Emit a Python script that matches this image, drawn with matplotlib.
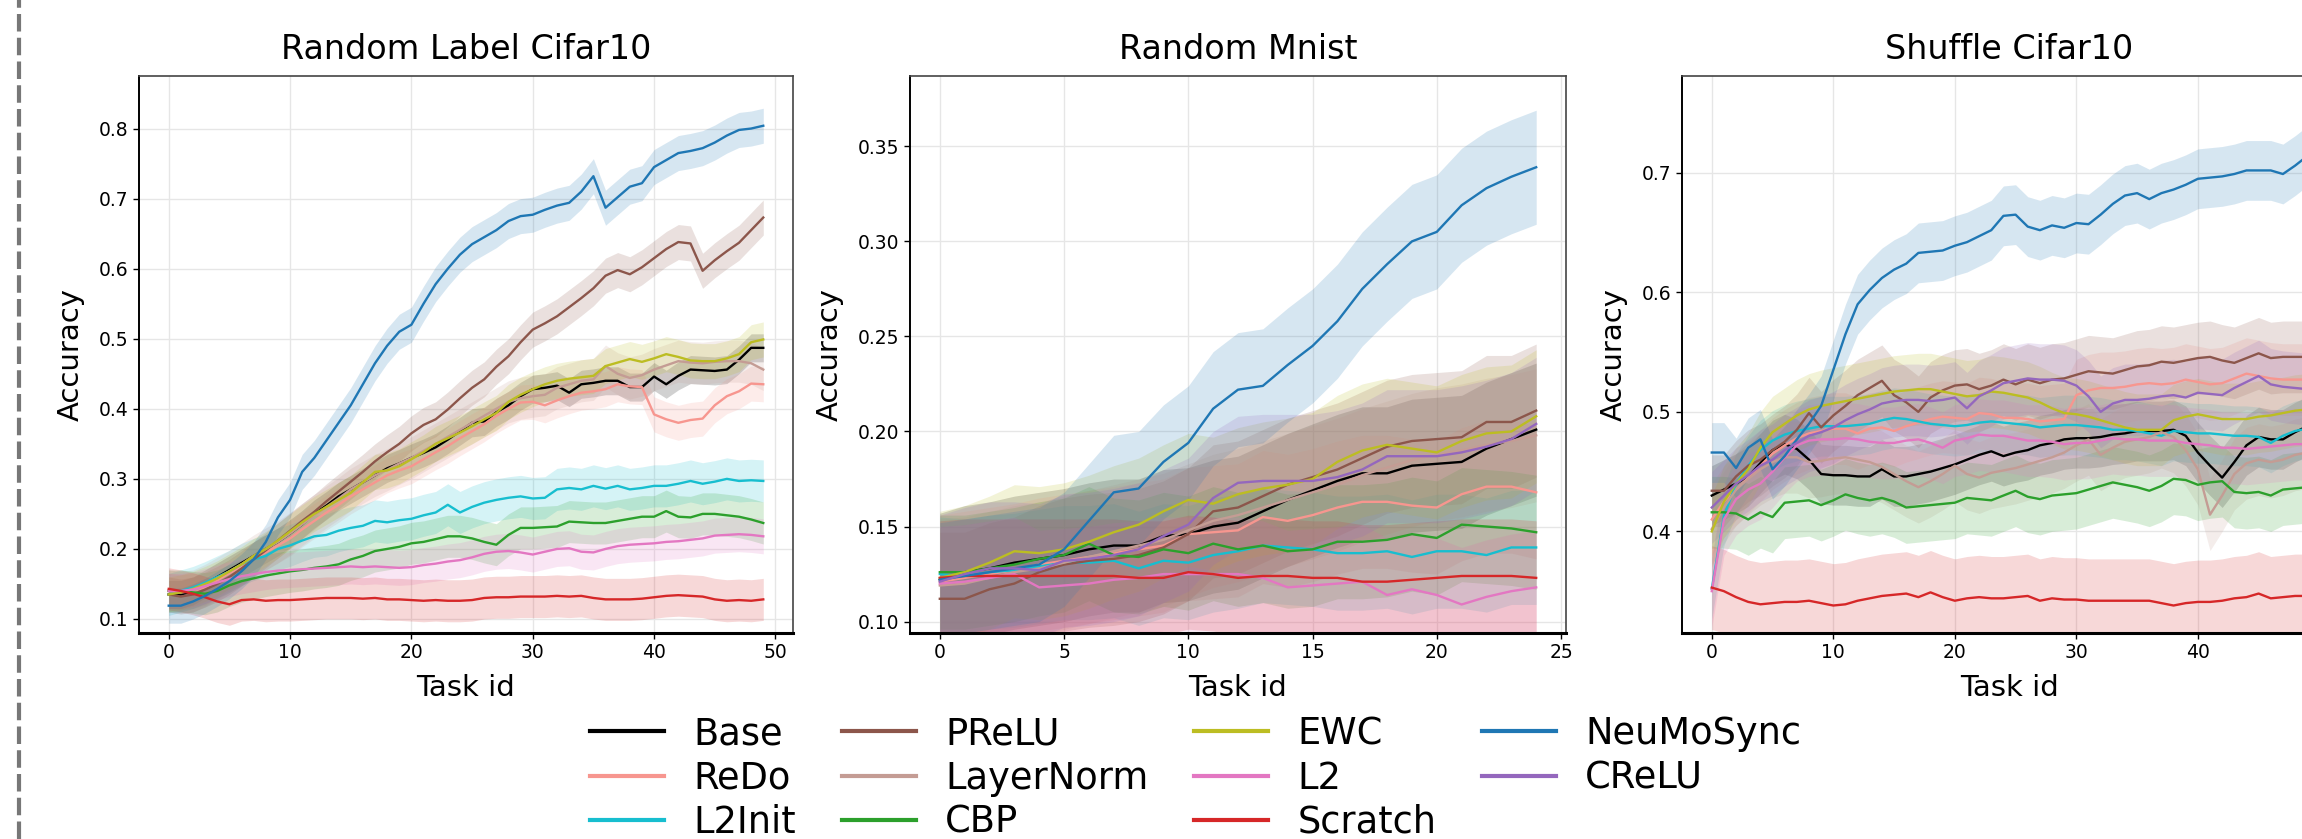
import numpy as np
import matplotlib

matplotlib.use("Agg")
import matplotlib.pyplot as plt
from matplotlib.lines import Line2D

plt.rcParams["font.family"] = ["DejaVu Sans"]

METHODS = ["Base", "ReDo", "L2Init", "PReLU", "LayerNorm", "CBP", "EWC", "L2", "Scratch", "NeuMoSync", "CReLU"]
COLORS = ["#000000", "#f7968f", "#17becf", "#8c564b", "#c49c94", "#2ca02c", "#bcbd22", "#e377c2", "#d62728", "#1f77b4", "#9467bd"]

# ---- Random Label Cifar10 (50 tasks) ----
rl_base = [0.135, 0.135, 0.14, 0.15, 0.16, 0.17, 0.18, 0.19, 0.20, 0.21, 0.222, 0.235, 0.25, 0.262, 0.275, 0.285, 0.295, 0.305, 0.315, 0.322,
           0.33, 0.337, 0.345, 0.356, 0.368, 0.38, 0.382, 0.395, 0.405, 0.418, 0.428, 0.43, 0.433, 0.423, 0.435, 0.437, 0.44, 0.44, 0.431, 0.431,
           0.446, 0.435, 0.447, 0.456, 0.455, 0.454, 0.456, 0.47, 0.487, 0.487]
rl_redo = [0.14, 0.138, 0.14, 0.145, 0.155, 0.165, 0.175, 0.185, 0.195, 0.205, 0.215, 0.228, 0.24, 0.252, 0.263, 0.275, 0.285, 0.295, 0.305, 0.312,
           0.318, 0.328, 0.338, 0.347, 0.358, 0.368, 0.378, 0.39, 0.40, 0.409, 0.41, 0.405, 0.412, 0.418, 0.423, 0.425, 0.428, 0.435, 0.432, 0.431,
           0.392, 0.385, 0.38, 0.384, 0.386, 0.405, 0.418, 0.425, 0.436, 0.435]
rl_l2init = [0.135, 0.14, 0.145, 0.152, 0.16, 0.168, 0.178, 0.185, 0.19, 0.20, 0.205, 0.212, 0.218, 0.22, 0.226, 0.23, 0.233, 0.24, 0.238, 0.241,
             0.243, 0.248, 0.252, 0.263, 0.252, 0.26, 0.266, 0.27, 0.273, 0.275, 0.272, 0.273, 0.285, 0.287, 0.285, 0.29, 0.286, 0.29, 0.285, 0.287,
             0.29, 0.29, 0.293, 0.297, 0.293, 0.296, 0.30, 0.297, 0.298, 0.297]
rl_prelu = [0.135, 0.132, 0.135, 0.142, 0.15, 0.16, 0.172, 0.185, 0.198, 0.212, 0.226, 0.24, 0.253, 0.268, 0.282, 0.296, 0.31, 0.325, 0.338, 0.35,
            0.365, 0.377, 0.385, 0.399, 0.415, 0.43, 0.442, 0.46, 0.475, 0.495, 0.513, 0.522, 0.532, 0.545, 0.558, 0.572, 0.59, 0.598, 0.592, 0.602,
            0.615, 0.628, 0.638, 0.636, 0.597, 0.612, 0.625, 0.637, 0.655, 0.673]
rl_layernorm = [0.14, 0.138, 0.14, 0.148, 0.158, 0.168, 0.178, 0.19, 0.20, 0.21, 0.222, 0.235, 0.248, 0.26, 0.272, 0.285, 0.295, 0.305, 0.313, 0.322,
                0.33, 0.34, 0.35, 0.36, 0.37, 0.38, 0.39, 0.40, 0.41, 0.415, 0.418, 0.42, 0.43, 0.435, 0.44, 0.442, 0.461, 0.45, 0.444, 0.448,
                0.456, 0.462, 0.468, 0.466, 0.465, 0.467, 0.468, 0.468, 0.465, 0.456]
rl_cbp = [0.14, 0.14, 0.138, 0.136, 0.14, 0.148, 0.154, 0.158, 0.162, 0.165, 0.168, 0.17, 0.173, 0.175, 0.178, 0.185, 0.19, 0.197, 0.20, 0.203,
          0.208, 0.21, 0.214, 0.218, 0.218, 0.215, 0.21, 0.206, 0.22, 0.23, 0.23, 0.231, 0.232, 0.239, 0.238, 0.237, 0.237, 0.24, 0.243, 0.246,
          0.246, 0.254, 0.246, 0.245, 0.25, 0.25, 0.248, 0.246, 0.242, 0.237]
rl_ewc = [0.135, 0.138, 0.143, 0.15, 0.158, 0.168, 0.178, 0.19, 0.20, 0.212, 0.225, 0.238, 0.25, 0.26, 0.27, 0.28, 0.295, 0.31, 0.312, 0.318,
          0.328, 0.338, 0.35, 0.358, 0.366, 0.375, 0.385, 0.394, 0.41, 0.42, 0.428, 0.435, 0.44, 0.443, 0.445, 0.447, 0.461, 0.466, 0.471, 0.467,
          0.472, 0.478, 0.474, 0.469, 0.468, 0.468, 0.472, 0.478, 0.495, 0.499]
rl_l2 = [0.14, 0.14, 0.142, 0.147, 0.152, 0.157, 0.161, 0.164, 0.167, 0.169, 0.17, 0.171, 0.172, 0.173, 0.174, 0.175, 0.174, 0.175, 0.174, 0.173,
         0.174, 0.177, 0.179, 0.182, 0.184, 0.188, 0.193, 0.196, 0.197, 0.195, 0.192, 0.196, 0.20, 0.201, 0.196, 0.195, 0.20, 0.204, 0.206, 0.207,
         0.208, 0.21, 0.211, 0.213, 0.215, 0.219, 0.22, 0.221, 0.22, 0.218]
rl_scratch = [0.143, 0.14, 0.136, 0.131, 0.125, 0.121, 0.127, 0.128, 0.126, 0.127, 0.127, 0.128, 0.129, 0.13, 0.13, 0.13, 0.129, 0.13, 0.128, 0.128,
              0.127, 0.126, 0.127, 0.126, 0.126, 0.127, 0.13, 0.131, 0.131, 0.132, 0.132, 0.132, 0.133, 0.132, 0.133, 0.13, 0.128, 0.128, 0.128, 0.129,
              0.131, 0.133, 0.134, 0.133, 0.132, 0.128, 0.126, 0.127, 0.126, 0.128]
rl_neumosync = [0.119, 0.119, 0.125, 0.133, 0.143, 0.154, 0.168, 0.185, 0.21, 0.245, 0.27, 0.31, 0.33, 0.355, 0.38, 0.405, 0.435, 0.465, 0.49, 0.51,
                0.52, 0.55, 0.578, 0.60, 0.62, 0.635, 0.645, 0.655, 0.668, 0.675, 0.677, 0.684, 0.69, 0.694, 0.71, 0.732, 0.687, 0.702, 0.717, 0.722,
                0.745, 0.755, 0.765, 0.768, 0.772, 0.78, 0.79, 0.798, 0.80, 0.804]
rl_spread = [0.02, 0.025, 0.03, 0.025, 0.03, 0.03, 0.025, 0.025, 0.03, 0.025, 0.0]

# ---- Random Mnist (25 tasks) ----
rm_base = [0.122, 0.126, 0.128, 0.131, 0.133, 0.135, 0.138, 0.14, 0.14, 0.145, 0.146, 0.15, 0.152, 0.158, 0.164, 0.169, 0.174, 0.178, 0.178, 0.182,
           0.183, 0.184, 0.191, 0.196, 0.201]
rm_redo = [0.121, 0.123, 0.125, 0.127, 0.13, 0.132, 0.134, 0.136, 0.138, 0.14, 0.146, 0.147, 0.148, 0.155, 0.153, 0.156, 0.16, 0.163, 0.163, 0.161,
           0.16, 0.167, 0.171, 0.171, 0.168]
rm_l2init = [0.125, 0.124, 0.126, 0.127, 0.129, 0.131, 0.131, 0.132, 0.128, 0.132, 0.131, 0.135, 0.137, 0.14, 0.139, 0.138, 0.136, 0.136, 0.137, 0.134,
             0.137, 0.137, 0.135, 0.139, 0.139]
rm_prelu = [0.112, 0.112, 0.117, 0.12, 0.126, 0.13, 0.132, 0.133, 0.135, 0.139, 0.146, 0.158, 0.16, 0.166, 0.172, 0.176, 0.18, 0.186, 0.192, 0.195,
            0.196, 0.197, 0.205, 0.205, 0.211]
rm_layernorm = [0.119, 0.12, 0.123, 0.126, 0.128, 0.131, 0.134, 0.137, 0.14, 0.143, 0.148, 0.153, 0.156, 0.16, 0.164, 0.168, 0.172, 0.177, 0.181, 0.185,
                0.188, 0.19, 0.193, 0.195, 0.198]
rm_cbp = [0.126, 0.126, 0.128, 0.13, 0.133, 0.135, 0.141, 0.135, 0.134, 0.138, 0.136, 0.141, 0.138, 0.14, 0.137, 0.138, 0.142, 0.142, 0.143, 0.146,
          0.144, 0.151, 0.15, 0.149, 0.147]
rm_ewc = [0.123, 0.126, 0.131, 0.137, 0.136, 0.138, 0.142, 0.147, 0.151, 0.158, 0.164, 0.162, 0.167, 0.17, 0.172, 0.175, 0.184, 0.19, 0.193, 0.191,
          0.189, 0.195, 0.199, 0.20, 0.208]
rm_l2 = [0.12, 0.121, 0.123, 0.125, 0.118, 0.119, 0.12, 0.122, 0.123, 0.125, 0.125, 0.125, 0.125, 0.123, 0.118, 0.119, 0.12, 0.121, 0.114, 0.117,
         0.114, 0.109, 0.113, 0.116, 0.118]
rm_scratch = [0.123, 0.124, 0.124, 0.124, 0.124, 0.124, 0.124, 0.124, 0.123, 0.123, 0.126, 0.125, 0.123, 0.124, 0.124, 0.123, 0.123, 0.121, 0.121, 0.122,
              0.123, 0.124, 0.124, 0.124, 0.123]
rm_neumosync = [0.122, 0.124, 0.126, 0.128, 0.13, 0.138, 0.153, 0.168, 0.17, 0.184, 0.194, 0.212, 0.222, 0.224, 0.235, 0.245, 0.258, 0.275, 0.288, 0.30,
                0.305, 0.319, 0.328, 0.334, 0.339]
rm_crelu = [0.121, 0.125, 0.128, 0.128, 0.127, 0.132, 0.133, 0.135, 0.138, 0.145, 0.151, 0.165, 0.173, 0.174, 0.174, 0.174, 0.176, 0.18, 0.187, 0.187,
            0.187, 0.189, 0.192, 0.196, 0.204]
rm_spread = [0.035, 0.035, 0.03, 0.035, 0.035, 0.03, 0.035, 0.03, 0.03, 0.03, 0.035]

# ---- Shuffle Cifar10 (50 tasks) ----
sc_base = [0.43, 0.435, 0.44, 0.446, 0.457, 0.468, 0.473, 0.469, 0.46, 0.448, 0.447, 0.447, 0.446, 0.446, 0.452, 0.446, 0.446, 0.448, 0.45, 0.453,
           0.456, 0.46, 0.464, 0.467, 0.463, 0.466, 0.468, 0.472, 0.474, 0.477, 0.478, 0.478, 0.479, 0.481, 0.482, 0.484, 0.484, 0.484, 0.485, 0.48,
           0.466, 0.455, 0.445, 0.458, 0.472, 0.479, 0.477, 0.477, 0.483, 0.488]
sc_redo = [0.41, 0.425, 0.435, 0.445, 0.455, 0.465, 0.472, 0.478, 0.482, 0.484, 0.486, 0.486, 0.482, 0.486, 0.487, 0.484, 0.488, 0.491, 0.494, 0.496,
           0.495, 0.494, 0.499, 0.498, 0.495, 0.495, 0.494, 0.492, 0.493, 0.494, 0.514, 0.518, 0.52, 0.52, 0.521, 0.523, 0.524, 0.523, 0.524, 0.527,
           0.525, 0.523, 0.524, 0.528, 0.532, 0.53, 0.528, 0.527, 0.527, 0.527]
sc_l2init = [0.352, 0.413, 0.44, 0.455, 0.468, 0.476, 0.481, 0.484, 0.486, 0.488, 0.488, 0.488, 0.489, 0.49, 0.493, 0.495, 0.494, 0.492, 0.49, 0.489,
             0.488, 0.489, 0.491, 0.492, 0.491, 0.49, 0.489, 0.487, 0.488, 0.489, 0.489, 0.488, 0.487, 0.485, 0.485, 0.484, 0.482, 0.48, 0.484, 0.483,
             0.482, 0.482, 0.481, 0.48, 0.48, 0.479, 0.474, 0.48, 0.484, 0.486]
sc_prelu = [0.434, 0.434, 0.446, 0.455, 0.46, 0.468, 0.475, 0.485, 0.499, 0.487, 0.497, 0.505, 0.514, 0.52, 0.526, 0.514, 0.508, 0.50, 0.512, 0.518,
            0.522, 0.523, 0.519, 0.522, 0.527, 0.523, 0.527, 0.524, 0.527, 0.528, 0.531, 0.534, 0.533, 0.532, 0.535, 0.538, 0.539, 0.542, 0.541, 0.543,
            0.545, 0.546, 0.543, 0.541, 0.545, 0.549, 0.545, 0.546, 0.546, 0.546]
sc_layernorm = [0.402, 0.42, 0.435, 0.444, 0.452, 0.458, 0.462, 0.462, 0.458, 0.459, 0.461, 0.462, 0.46, 0.458, 0.454, 0.448, 0.442, 0.437, 0.442, 0.448,
                0.455, 0.448, 0.445, 0.449, 0.451, 0.453, 0.456, 0.459, 0.462, 0.466, 0.472, 0.477, 0.464, 0.47, 0.475, 0.477, 0.479, 0.483, 0.479, 0.468,
                0.452, 0.414, 0.43, 0.448, 0.457, 0.46, 0.458, 0.46, 0.464, 0.466]
sc_cbp = [0.416, 0.416, 0.415, 0.41, 0.416, 0.412, 0.424, 0.425, 0.426, 0.422, 0.426, 0.431, 0.428, 0.426, 0.428, 0.425, 0.42, 0.421, 0.422, 0.423,
          0.424, 0.428, 0.427, 0.426, 0.43, 0.434, 0.429, 0.427, 0.43, 0.431, 0.432, 0.435, 0.438, 0.441, 0.439, 0.437, 0.434, 0.438, 0.444, 0.443,
          0.439, 0.441, 0.442, 0.433, 0.432, 0.433, 0.43, 0.435, 0.436, 0.437]
sc_ewc = [0.40, 0.425, 0.44, 0.452, 0.47, 0.483, 0.49, 0.497, 0.502, 0.505, 0.507, 0.509, 0.511, 0.513, 0.515, 0.517, 0.518, 0.519, 0.519, 0.517,
          0.515, 0.513, 0.514, 0.517, 0.516, 0.514, 0.512, 0.508, 0.503, 0.499, 0.498, 0.496, 0.493, 0.49, 0.487, 0.485, 0.485, 0.485, 0.493, 0.496,
          0.498, 0.496, 0.494, 0.494, 0.494, 0.496, 0.497, 0.499, 0.501, 0.502]
sc_l2 = [0.35, 0.41, 0.427, 0.435, 0.44, 0.45, 0.462, 0.472, 0.476, 0.477, 0.477, 0.478, 0.477, 0.475, 0.474, 0.474, 0.476, 0.477, 0.474, 0.47,
         0.476, 0.478, 0.481, 0.48, 0.48, 0.478, 0.476, 0.476, 0.475, 0.473, 0.474, 0.474, 0.476, 0.478, 0.477, 0.477, 0.476, 0.476, 0.476, 0.474,
         0.473, 0.472, 0.47, 0.47, 0.469, 0.47, 0.471, 0.472, 0.473, 0.473]
sc_scratch = [0.353, 0.35, 0.345, 0.341, 0.339, 0.34, 0.341, 0.341, 0.342, 0.34, 0.338, 0.339, 0.342, 0.344, 0.346, 0.347, 0.348, 0.345, 0.349, 0.345,
              0.342, 0.344, 0.345, 0.344, 0.344, 0.345, 0.346, 0.342, 0.344, 0.343, 0.343, 0.342, 0.342, 0.342, 0.342, 0.342, 0.342, 0.34, 0.338, 0.34,
              0.341, 0.341, 0.342, 0.344, 0.345, 0.348, 0.344, 0.345, 0.346, 0.346]
sc_neumosync = [0.466, 0.466, 0.453, 0.47, 0.477, 0.452, 0.463, 0.477, 0.49, 0.505, 0.535, 0.565, 0.59, 0.602, 0.612, 0.619, 0.624, 0.633, 0.634, 0.635,
                0.639, 0.642, 0.647, 0.652, 0.664, 0.665, 0.655, 0.652, 0.656, 0.654, 0.658, 0.657, 0.665, 0.674, 0.681, 0.683, 0.678, 0.683, 0.686, 0.69,
                0.695, 0.696, 0.697, 0.699, 0.702, 0.702, 0.702, 0.699, 0.706, 0.714]
sc_crelu = [0.42, 0.43, 0.44, 0.447, 0.455, 0.46, 0.468, 0.474, 0.48, 0.483, 0.487, 0.493, 0.498, 0.502, 0.507, 0.509, 0.51, 0.51, 0.509, 0.51,
            0.512, 0.503, 0.513, 0.518, 0.524, 0.526, 0.528, 0.527, 0.527, 0.526, 0.522, 0.513, 0.50, 0.507, 0.51, 0.51, 0.511, 0.513, 0.514, 0.512,
            0.516, 0.515, 0.514, 0.52, 0.525, 0.53, 0.523, 0.521, 0.52, 0.519]
sc_spread = [0.025, 0.03, 0.025, 0.03, 0.03, 0.03, 0.03, 0.03, 0.035, 0.025, 0.03]

W, H = 2302, 839
fig = plt.figure(figsize=(W / 100, H / 100), dpi=100)


def panel_rect(left_px, width_px):
    return [left_px / W, 206 / H, width_px / W, 557 / H]


def draw_panel(ax, title, series, spread, xlim, ylim, xticks, yticks):
    for name, color, values, sd in zip(METHODS, COLORS, series, spread):
        if values is None:
            continue
        y = np.asarray(values)
        x = np.arange(len(y))
        ax.fill_between(x, y - sd, y + sd, color=color, alpha=0.18, linewidth=0)
        ax.plot(x, y, color=color, lw=1.7, label=name)
    ax.set_xlim(*xlim)
    ax.set_ylim(*ylim)
    ax.set_xticks(xticks)
    ax.set_yticks(yticks)
    ax.set_title(title, fontsize=24, pad=12)
    ax.set_xlabel("Task id", fontsize=21, labelpad=8)
    ax.set_ylabel("Accuracy", fontsize=21, labelpad=10)
    ax.tick_params(labelsize=13.5, length=4, width=1)
    ax.grid(True, color="#e6e6e6", lw=1)
    ax.set_axisbelow(True)
    for side in ["top", "right"]:
        ax.spines[side].set_color("#444444")
        ax.spines[side].set_linewidth(1.2)
    ax.spines["left"].set_linewidth(1.4)
    ax.spines["bottom"].set_linewidth(2.2)


ax1 = fig.add_axes(panel_rect(139, 654))
ax2 = fig.add_axes(panel_rect(910, 656))
ax3 = fig.add_axes(panel_rect(1682, 655))

draw_panel(ax1, "Random Label Cifar10",
           [rl_base, rl_redo, rl_l2init, rl_prelu, rl_layernorm, rl_cbp, rl_ewc, rl_l2, rl_scratch, rl_neumosync, None],
           rl_spread, (-2.45, 51.45), (0.08, 0.875), range(0, 51, 10), np.arange(0.1, 0.81, 0.1))
draw_panel(ax2, "Random Mnist",
           [rm_base, rm_redo, rm_l2init, rm_prelu, rm_layernorm, rm_cbp, rm_ewc, rm_l2, rm_scratch, rm_neumosync, rm_crelu],
           rm_spread, (-1.2, 25.2), (0.094, 0.387), range(0, 26, 5), [0.10, 0.15, 0.20, 0.25, 0.30, 0.35])
draw_panel(ax3, "Shuffle Cifar10",
           [sc_base, sc_redo, sc_l2init, sc_prelu, sc_layernorm, sc_cbp, sc_ewc, sc_l2, sc_scratch, sc_neumosync, sc_crelu],
           sc_spread, (-2.45, 51.45), (0.315, 0.781), range(0, 51, 10), [0.4, 0.5, 0.6, 0.7])

handles = [Line2D([], [], color=c, lw=3) for c in COLORS]
fig.legend(handles, METHODS, ncol=4, loc="upper left", bbox_to_anchor=(0.242, 0.187),
           frameon=False, fontsize=26.5, labelspacing=0.2, columnspacing=1.25,
           handlelength=2.0, handletextpad=0.8, borderpad=0.4)

# dashed separator at the left edge
fig.add_artist(Line2D([19 / W, 19 / W], [0, 1], transform=fig.transFigure,
                      color="#777777", lw=3, dashes=(4.2, 1.5)))

fig.savefig("out.png", dpi=100)
